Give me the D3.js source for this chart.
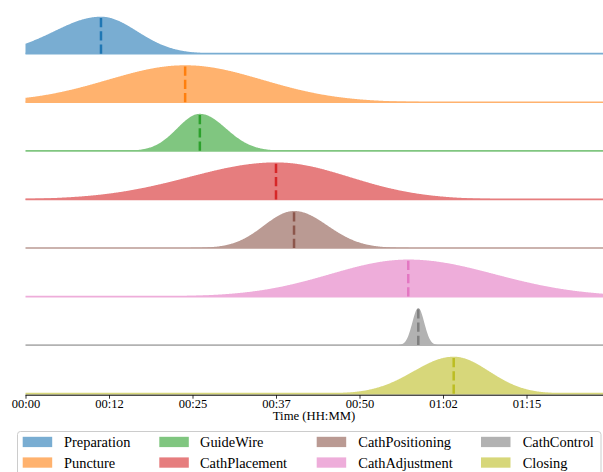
<!DOCTYPE html>
<html>
<head>
<meta charset="utf-8">
<script src="https://cdn.jsdelivr.net/npm/d3@7"></script>
<style>
  body { margin: 0; background: #fff; }
  text { font-family: "Liberation Serif", "Times New Roman", serif; fill: #000; }
</style>
</head>
<body>
<script>
// phases, peak time (minutes) and spread left/right of the peak (minutes)
const categories = ["Preparation", "Puncture", "GuideWire", "CathPlacement",
  "CathPositioning", "CathAdjustment", "CathControl", "Closing"];
const peakTimes = [11.3, 23.9, 26.1, 37.5, 40.2, 57.3, 58.8, 64.1];
const spreadLeft = [7.0, 11.6, 3.4, 13.0, 4.5, 11.7, 0.9, 6.0];
const spreadRight = [5.4, 11.6, 3.9, 11.0, 5.0, 12.9, 0.9, 5.3];
const colors = ["#1f77b4", "#ff7f0e", "#2ca02c", "#d62728",
  "#8c564b", "#e377c2", "#7f7f7f", "#bcbd22"];
const tickValues = [0, 12.5, 25, 37.5, 50, 62.5, 75];
const tickLabels = ["00:00", "00:12", "00:25", "00:37", "00:50", "01:02", "01:15"];

const W = 603, H = 472;
const svg = d3.select("body").append("svg").attr("width", W).attr("height", H);

const x = d3.scaleLinear().domain([0, 75]).range([25.5, 526.5]);
const xMax = x.invert(W + 2);
const rowTop = 53.7, rowStep = 48.57, peakH = 37;

const grid = d3.range(0, xMax, 0.1).concat([xMax]);

function shape(i, t) {
  const s = t < peakTimes[i] ? spreadLeft[i] : spreadRight[i];
  const z = (t - peakTimes[i]) / s;
  return Math.exp(-0.5 * z * z);
}

categories.forEach((c, i) => {
  const base = rowTop + i * rowStep;
  const y = d3.scaleLinear().domain([0, 1]).range([base, base - peakH]);
  const light = d3.interpolateRgb("#ffffff", colors[i])(0.6);
  const g = svg.append("g");

  g.append("path")
    .datum(grid)
    .attr("d", d3.area().x(t => x(t)).y0(base).y1(t => y(shape(i, t))))
    .attr("fill", light);

  g.append("line")
    .attr("x1", x(0)).attr("x2", W)
    .attr("y1", base).attr("y2", base)
    .attr("stroke", light).attr("stroke-width", 1.7);

  g.append("line")
    .attr("x1", x(peakTimes[i])).attr("x2", x(peakTimes[i]))
    .attr("y1", base).attr("y2", y(1))
    .attr("stroke", colors[i]).attr("stroke-width", 2.5)
    .attr("stroke-dasharray", "9.25,4");
});

// x axis
const axisY = 395.2;
const ax = svg.append("g").attr("transform", `translate(0,${axisY})`)
  .call(d3.axisBottom(x).tickValues(tickValues)
    .tickFormat((d, k) => tickLabels[k]).tickSize(3.5).tickPadding(0));
ax.select(".domain").remove();
ax.append("line").attr("x1", x(0)).attr("x2", W).attr("stroke", "#000").attr("stroke-width", 1);
ax.selectAll(".tick line").attr("stroke", "#000").attr("stroke-width", 0.8);
ax.selectAll(".tick text")
  .style("font-family", '"Liberation Serif", serif')
  .style("font-size", "12.5px").attr("fill", "#000");

svg.append("text")
  .attr("x", 314).attr("y", 420)
  .attr("text-anchor", "middle")
  .style("font-size", "12.7px")
  .text("Time (HH:MM)");

// legend
const legend = svg.append("g");
legend.append("rect")
  .attr("x", 17.5).attr("y", 431.5).attr("width", 583.5).attr("height", 46)
  .attr("rx", 3).attr("fill", "#fff").attr("stroke", "#cccccc").attr("stroke-width", 1);

const colPatch = [22.7, 159.3, 316.7, 481];
const colText = [64, 200, 358.3, 522.7];
categories.forEach((c, i) => {
  const col = Math.floor(i / 2), row = i % 2;
  const py = 436.8 + row * 20.6;
  legend.append("rect")
    .attr("x", colPatch[col]).attr("y", py).attr("width", 29.5).attr("height", 10.3)
    .attr("fill", d3.interpolateRgb("#ffffff", colors[i])(0.6));
  legend.append("text")
    .attr("x", colText[col]).attr("y", py + 10.5)
    .style("font-size", "14.4px")
    .text(c);
});
</script>
</body>
</html>
